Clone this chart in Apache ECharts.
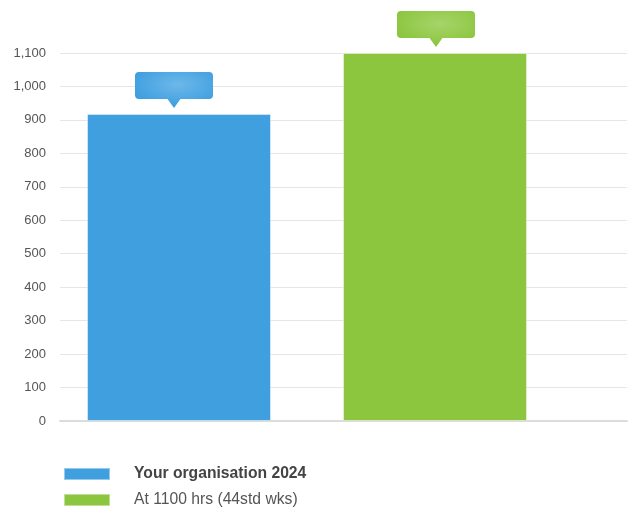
<!DOCTYPE html>
<html>
<head>
<meta charset="utf-8">
<title>Annual hours comparison</title>
<script src="https://cdn.jsdelivr.net/npm/echarts@6/dist/echarts.min.js"></script>
<style>
  html, body { margin: 0; padding: 0; background: #ffffff; }
  #chart { width: 629px; height: 511px; }
</style>
</head>
<body>
<div id="chart"></div>
<script>
// Categories and values
const categories = ['Your organisation 2024', 'At 1100 hrs (44std wks)'];
const hoursValues = [918, 1100];
const barColors = ['#409fdf', '#8cc63f'];
const calloutLight = ['#6db8ea', '#a6d46a'];
const yTicks = { min: 0, max: 1100, interval: 100 };

// Speech-bubble shape used above each bar
const bubblePath = 'path://M4,0 H74 Q78,0 78,4 V23 Q78,27 74,27 H45.5 L39,36 L32.5,27 H4 Q0,27 0,23 V4 Q0,0 4,0 Z';
const bubbleShift = [-5, 1];

const chart = echarts.init(document.getElementById('chart'), null, { renderer: 'canvas' });

const series = categories.map((name, i) => {
  const data = categories.map((c, j) => (j === i ? hoursValues[i] : '-'));
  return {
    name: name,
    type: 'bar',
    xAxisIndex: 1,
    yAxisIndex: 1,
    barWidth: 184,
    barGap: '-100%',
    data: data,
    itemStyle: {
      color: barColors[i],
      borderColor: 'rgba(255,255,255,0.45)',
      borderWidth: 1
    },
    emphasis: { disabled: true },
    markPoint: {
      symbol: bubblePath,
      symbolSize: [78, 36],
      symbolOffset: [bubbleShift[i], -24],
      silent: true,
      label: { show: false },
      itemStyle: {
        color: {
          type: 'radial', x: 0.55, y: 0.35, r: 0.6,
          colorStops: [
            { offset: 0, color: calloutLight[i] },
            { offset: 1, color: barColors[i] }
          ]
        }
      },
      data: [{ coord: [categories[i], hoursValues[i]] }]
    }
  };
});

const option = {
  backgroundColor: '#ffffff',
  animation: false,
  textStyle: { fontFamily: 'Liberation Sans, Arial, sans-serif' },
  grid: [
    { left: 60, right: 2, top: 53, bottom: 90 },
    { left: 51, width: 512, top: 53, bottom: 90 }
  ],
  xAxis: [
    {
      gridIndex: 0, type: 'value', min: 0, max: 1,
      axisLabel: { show: false }, axisTick: { show: false },
      splitLine: { show: false },
      axisLine: { show: true, lineStyle: { color: '#dcdcdc', width: 2 } }
    },
    {
      gridIndex: 1, type: 'category', data: categories,
      axisLabel: { show: false }, axisTick: { show: false },
      axisLine: { show: false }
    }
  ],
  yAxis: [
    {
      gridIndex: 0, type: 'value',
      min: yTicks.min, max: yTicks.max, interval: yTicks.interval,
      axisLine: { show: false }, axisTick: { show: false },
      axisLabel: {
        margin: 14, color: '#555555', fontSize: 13,
        formatter: v => v.toLocaleString('en-US')
      },
      splitLine: { lineStyle: { color: '#e6e6e6', width: 1 } }
    },
    {
      gridIndex: 1, type: 'value',
      min: yTicks.min, max: yTicks.max, interval: yTicks.interval,
      show: false, splitLine: { show: false }
    }
  ],
  legend: {
    orient: 'vertical',
    left: 63,
    top: 466,
    padding: 0,
    itemWidth: 46,
    itemHeight: 12,
    itemGap: 10,
    icon: 'rect',
    selectedMode: false,
    data: categories,
    formatter: name => (name === categories[0] ? '{b|' + name + '}' : '{n|' + name + '}'),
    textStyle: {
      rich: {
        b: { fontSize: 15.7, lineHeight: 18, fontWeight: 'bold', color: '#444444', padding: [0, 0, 0, 19] },
        n: { fontSize: 15.7, lineHeight: 18, color: '#555555', padding: [0, 0, 0, 19] }
      }
    }
  },
  series: series
};

chart.setOption(option);
</script>
</body>
</html>
